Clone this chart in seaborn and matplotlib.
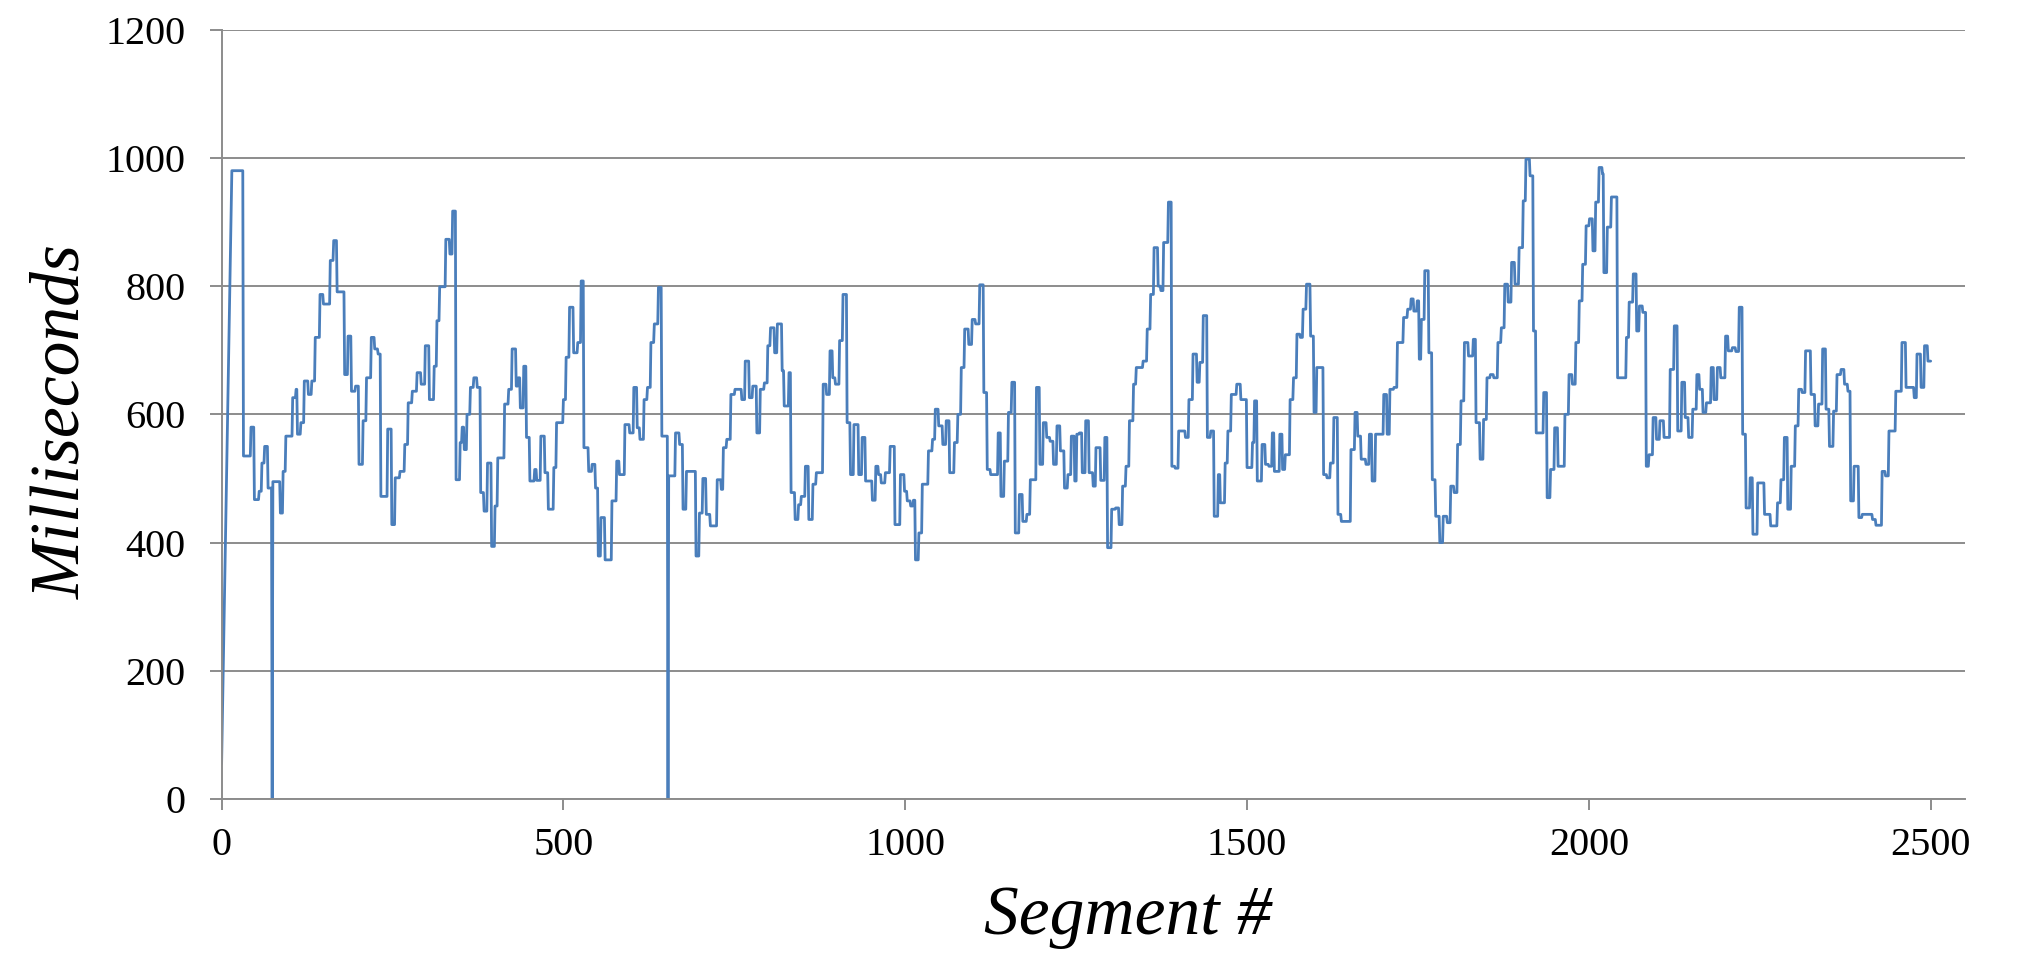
import numpy as np
import pandas as pd
import matplotlib.pyplot as plt
import seaborn as sns

sns.set_theme(style="white")
plt.rcParams["font.family"] = ["Liberation Serif", "DejaVu Serif"]
plt.rcParams["text.color"] = "black"
plt.rcParams["axes.labelcolor"] = "black"
plt.rcParams["xtick.labelcolor"] = "black"
plt.rcParams["ytick.labelcolor"] = "black"

# run-length encoded series: segment where each flat run starts, and its value (ms)
# nan = no sample (line is just joined across the gap)
RUN_START = [
    0, 1, 15, 32, 43, 48, 55, 59, 63, 68, 74, 75, 86, 90, 94, 104, 109, 111, 116, 121,
    127, 132, 137, 144, 149, 159, 164, 169, 180, 185, 190, 196, 201, 207, 212, 219, 224, 229, 233, 243,
    249, 254, 261, 268, 273, 279, 286, 292, 298, 304, 311, 315, 319, 328, 334, 338, 343, 349, 352, 355,
    359, 364, 369, 374, 379, 384, 389, 395, 400, 404, 414, 420, 425, 431, 434, 437, 442, 446, 451, 458,
    461, 467, 473, 478, 486, 490, 500, 504, 509, 515, 521, 526, 530, 537, 542, 547, 551, 555, 561, 571,
    578, 582, 590, 597, 603, 608, 612, 618, 623, 628, 633, 639, 644, 653, 654, 664, 670, 675, 680, 694,
    699, 704, 709, 715, 725, 731, 734, 739, 745, 751, 761, 766, 772, 777, 783, 788, 794, 799, 803, 809,
    813, 820, 823, 830, 833, 839, 844, 848, 854, 859, 865, 870, 880, 885, 890, 894, 898, 904, 909, 915,
    920, 925, 932, 937, 942, 952, 957, 961, 965, 971, 978, 985, 993, 999, 1003, 1008, 1012, 1015, 1020, 1025,
    1034, 1040, 1044, 1049, 1055, 1060, 1065, 1072, 1077, 1082, 1087, 1093, 1098, 1103, 1109, 1115, 1120, 1125, 1136, 1140,
    1145, 1151, 1156, 1161, 1167, 1172, 1178, 1183, 1192, 1197, 1202, 1207, 1212, 1217, 1222, 1227, 1233, 1238, 1243, 1248,
    1251, 1255, 1259, 1264, 1269, 1275, 1279, 1286, 1292, 1296, 1302, 1308, 1313, 1318, 1323, 1328, 1334, 1338, 1348, 1354,
    1359, 1364, 1370, 1374, 1378, 1385, 1390, 1395, 1400, 1410, 1415, 1421, 1427, 1431, 1436, 1442, 1447, 1452, 1458, 1461,
    1468, 1472, 1477, 1485, 1491, 1500, 1508, 1511, 1515, 1522, 1527, 1532, 1537, 1540, 1548, 1552, 1556, 1563, 1568, 1573,
    1578, 1582, 1587, 1593, 1598, 1602, 1612, 1617, 1622, 1627, 1633, 1638, 1652, 1658, 1662, 1667, 1674, 1679, 1683, 1688,
    1700, 1705, 1709, 1715, 1720, 1729, 1735, 1740, 1744, 1749, 1752, 1755, 1760, 1766, 1771, 1776, 1782, 1787, 1793, 1798,
    1803, 1808, 1813, 1818, 1824, 1831, 1835, 1841, 1846, 1851, 1856, 1861, 1867, 1872, 1877, 1882, 1887, 1892, 1898, 1904,
    1908, 1914, 1919, 1923, 1934, 1939, 1944, 1950, 1955, 1965, 1971, 1976, 1981, 1986, 1991, 1996, 2001, 2006, 2010, 2015,
    2020, 2022, 2027, 2033, 2042, 2055, 2059, 2065, 2070, 2074, 2079, 2084, 2088, 2094, 2099, 2104, 2110, 2119, 2125, 2130,
    2136, 2141, 2146, 2152, 2158, 2162, 2167, 2172, 2179, 2183, 2188, 2193, 2200, 2204, 2210, 2215, 2220, 2225, 2230, 2236,
    2240, 2247, 2257, 2266, 2276, 2281, 2286, 2291, 2296, 2302, 2307, 2312, 2317, 2325, 2331, 2336, 2342, 2347, 2352, 2358,
    2363, 2369, 2374, 2379, 2383, 2388, 2395, 2400, 2415, 2420, 2429, 2434, 2439, 2449, 2458, 2464, 2476, 2480, 2486, 2491,
    2496,
]
RUN_MS = [
    55, np.nan, 980, 535, 580, 467, 480, 524, 550, 485, 0, 495, 446, 511, 566, 626, 639, 569, 587, 652,
    631, 652, 720, 787, 772, 840, 871, 791, 662, 722, 636, 644, 522, 590, 657, 720, 702, 694, 472, 577,
    428, 501, 511, 553, 618, 636, 665, 647, 707, 623, 675, 746, 799, 873, 850, 917, 498, 556, 580, 545,
    600, 642, 657, 642, 478, 449, 524, 394, 457, 532, 616, 639, 702, 644, 657, 610, 675, 564, 496, 514,
    497, 566, 509, 452, 517, 587, 623, 689, 767, 696, 712, 808, 548, 511, 522, 485, 379, 439, 373, 465,
    527, 506, 584, 571, 642, 579, 561, 623, 642, 712, 741, 798, 566, 0, 504, 571, 553, 452, 511, 379,
    446, 500, 444, 426, 498, 483, 548, 561, 631, 639, 623, 683, 626, 644, 571, 639, 649, 707, 735, 696,
    741, 668, 613, 665, 478, 436, 459, 472, 519, 436, 491, 509, 647, 631, 699, 657, 647, 715, 787, 587,
    506, 584, 506, 564, 496, 466, 519, 506, 493, 509, 550, 428, 506, 480, 465, 457, 466, 373, 415, 491,
    543, 561, 608, 582, 553, 590, 509, 556, 600, 673, 733, 709, 748, 741, 802, 634, 514, 506, 571, 472,
    527, 603, 650, 415, 475, 433, 444, 498, 642, 522, 587, 564, 558, 522, 582, 543, 485, 506, 566, 496,
    569, 571, 509, 590, 509, 488, 548, 497, 564, 392, 452, 454, 428, 488, 519, 590, 647, 673, 683, 733,
    787, 860, 800, 793, 868, 931, 519, 516, 574, 564, 623, 694, 650, 681, 754, 564, 574, 441, 506, 462,
    524, 574, 631, 647, 623, 517, 556, 621, 496, 553, 522, 519, 571, 511, 569, 514, 537, 623, 657, 725,
    720, 764, 803, 722, 603, 673, 506, 501, 524, 595, 444, 433, 545, 603, 566, 530, 522, 569, 496, 569,
    631, 569, 639, 642, 712, 751, 764, 780, 761, 777, 686, 748, 824, 696, 498, 441, 400, 441, 431, 488,
    478, 553, 621, 712, 691, 717, 587, 530, 592, 657, 662, 657, 712, 735, 803, 775, 837, 803, 860, 933,
    998, 972, 730, 571, 634, 470, 514, 579, 519, 600, 662, 647, 712, 777, 834, 894, 905, 855, 931, 985,
    975, 821, 892, 939, 657, 720, 775, 819, 730, 769, 759, 519, 537, 595, 561, 590, 564, 670, 738, 574,
    650, 595, 564, 608, 662, 639, 603, 618, 673, 623, 673, 657, 722, 699, 704, 698, 767, 569, 454, 501,
    413, 493, 444, 426, 462, 498, 564, 452, 519, 582, 639, 634, 699, 631, 582, 616, 702, 608, 550, 605,
    662, 670, 647, 636, 465, 519, 439, 444, 436, 427, 511, 504, 574, 636, 712, 642, 626, 694, 642, 707,
    683,
]
LAST_SEGMENT = 2500

Y_TICKS = [0, 200, 400, 600, 800, 1000, 1200]
X_TICKS = [0, 500, 1000, 1500, 2000, 2500]

lengths = np.diff(RUN_START + [LAST_SEGMENT + 1])
ms = np.repeat(np.array(RUN_MS, dtype=float), lengths)
df = pd.DataFrame({"segment": np.arange(LAST_SEGMENT + 1), "ms": ms}).dropna()

grid_col = "#8c8c8c"

fig = plt.figure(figsize=(20.2, 9.56), dpi=100)
ax = fig.add_axes([0.1097, 0.1642, 0.8630, 0.8048])

sns.lineplot(data=df, x="segment", y="ms", ax=ax, estimator=None, sort=False,
             color="#4a7ebb", linewidth=2.0)

ax.set_xlim(0, 2550)
ax.set_ylim(0, 1200)
ax.set_xticks(X_TICKS)
ax.set_yticks(Y_TICKS)
ax.yaxis.grid(True, color=grid_col, linewidth=1.4)
ax.xaxis.grid(False)
ax.set_axisbelow(True)

for side in ["top", "right"]:
    ax.spines[side].set_visible(False)
for side in ["left", "bottom"]:
    ax.spines[side].set_color(grid_col)
    ax.spines[side].set_linewidth(1.4)

ax.tick_params(axis="y", length=9, width=1.4, color=grid_col, labelsize=29, pad=17, left=True)
ax.tick_params(axis="x", length=8, width=1.4, color=grid_col, labelsize=29, pad=12, bottom=True)

ax.set_xlabel("Segment #", fontsize=50, style="italic")
ax.set_ylabel("Milliseconds", fontsize=50, style="italic")
ax.xaxis.set_label_coords(0.5196, -0.112)
ax.yaxis.set_label_coords(-0.073, 0.49)

fig.savefig("out.png", dpi=100)
plt.close(fig)
